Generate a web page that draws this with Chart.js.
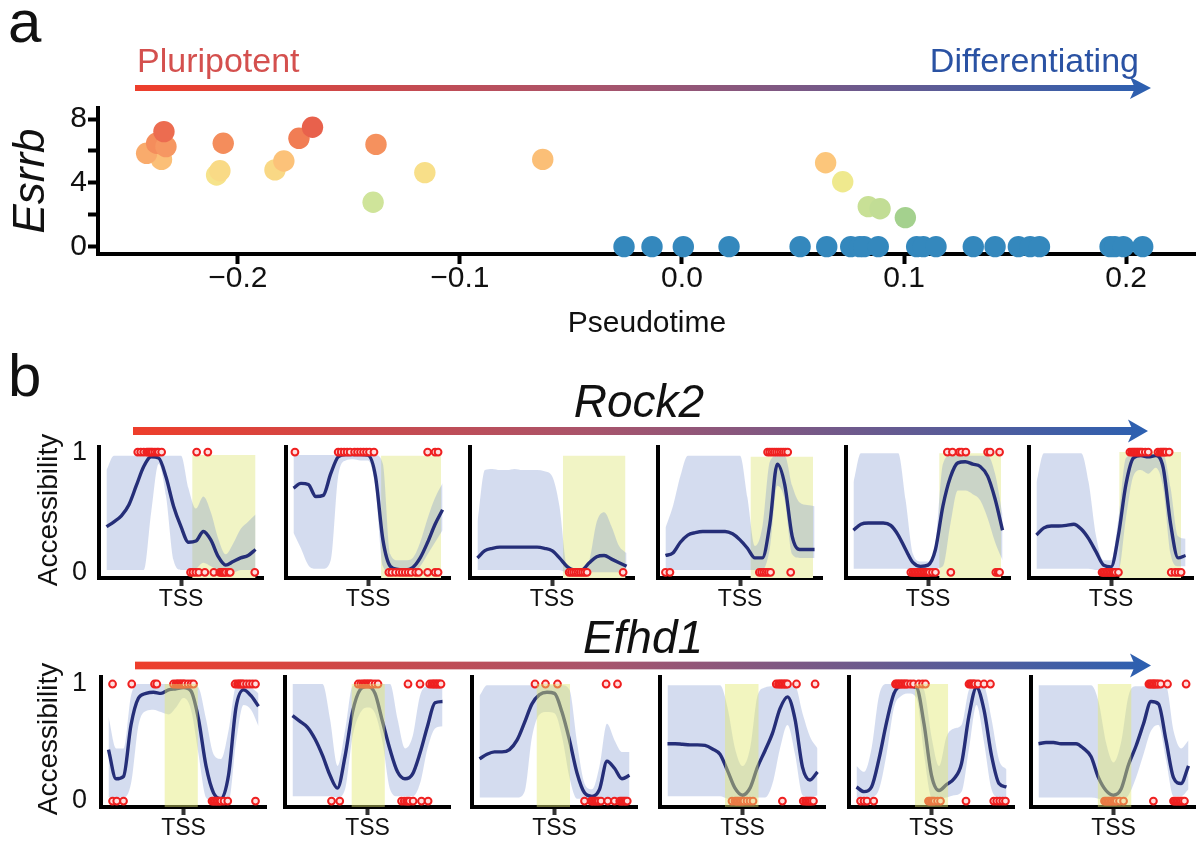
<!DOCTYPE html>
<html>
<head>
<meta charset="utf-8">
<title>Esrrb pseudotime and promoter accessibility</title>
<script src="https://cdn.jsdelivr.net/npm/chart.js@4.4.1/dist/chart.umd.min.js"></script>
<style>
  html, body { margin: 0; padding: 0; background: #fff; }
  #fig { position: relative; width: 1196px; height: 841px; overflow: hidden;
         font-family: 'Liberation Sans', Arial, sans-serif; color: #111; }
  #fig canvas { position: absolute; }
  .txt { position: absolute; line-height: 1; white-space: nowrap; z-index: 2; }
  .rot { transform: translate(-50%, -50%) rotate(-90deg); }
</style>
</head>
<body>
<div id="fig">
  <canvas id="arrows" width="1196" height="841" style="left:0;top:0"></canvas>
  <div class="txt" style="left:8px;top:-7.8px;font-size:60px">a</div>
  <div class="txt" style="left:8px;top:346px;font-size:60px">b</div>
  <div class="txt" style="left:137px;top:43.2px;font-size:34px;color:#d4504e">Pluripotent</div>
  <div class="txt" style="right:57px;top:43.2px;font-size:34px;color:#2a52a3">Differentiating</div>
  <div class="txt" style="left:339px;width:600px;text-align:center;top:378px;font-size:46px;font-style:italic">Rock2</div>
  <div class="txt" style="left:343px;width:600px;text-align:center;top:614px;font-size:46px;font-style:italic">Efhd1</div>
  <div class="txt rot" style="left:48px;top:510px;font-size:28px">Accessibility</div>
  <div class="txt rot" style="left:48px;top:739px;font-size:28px">Accessibility</div>
</div>
<script>
// ---------- panel a : Esrrb expression vs pseudotime ----------
const pseudotime = [
  -0.2344, -0.2411, -0.2366, -0.2324, -0.2333, -0.2066, -0.2096, -0.2081,
  -0.1833, -0.1793, -0.1725, -0.1664, -0.1378, -0.1391, -0.1158, -0.0627,
  0.0647, 0.0724, 0.0839, 0.0892, 0.1006,
  -0.0261, -0.0135, 0.0006, 0.0212, 0.0532, 0.0652, 0.0760, 0.0800, 0.0820, 0.0884,
  0.1057, 0.1087, 0.1144, 0.1312, 0.1410, 0.1515, 0.1568, 0.1610, 0.1928, 0.1950, 0.1988, 0.2075
];
const esrrbExpr = [
  5.47, 5.85, 6.48, 6.27, 7.21, 6.48, 4.49, 4.76,
  4.81, 5.37, 6.79, 7.48, 6.41, 2.78, 4.64, 5.47,
  5.26, 4.07, 2.51, 2.38, 1.82,
  0, 0, 0, 0, 0, 0, 0, 0, 0, 0,
  0, 0, 0, 0, 0, 0, 0, 0, 0, 0, 0, 0
];
const timeTicks = [-0.2, -0.1, 0, 0.1, 0.2];
const exprTicks = [0, 2, 4, 6, 8];

// ---------- panel b : accessibility around the TSS ----------
const tssPos = [0, 5, 10, 15, 20, 25, 30, 35, 40, 45, 50, 55, 60, 65, 70, 75, 80, 85, 90, 95, 100];

const rock2Fit = [
  [.38,.42,.47,.56,.72,.88,.96,.95,.79,.55,.38,.25,.26,.34,.27,.13,.06,.09,.12,.14,.19],
  [.70,.74,.73,.63,.64,.82,.96,.98,.98,.98,.975,.80,.27,.05,.025,.02,.04,.12,.25,.40,.52],
  [.12,.18,.20,.21,.21,.21,.21,.21,.21,.20,.18,.12,.05,.02,.02,.08,.13,.14,.11,.08,.05],
  [.14,.16,.25,.31,.33,.34,.34,.34,.34,.32,.27,.20,.12,.12,.40,.90,.73,.30,.19,.19,.19],
  [.35,.40,.41,.41,.41,.39,.31,.19,.08,.05,.06,.19,.55,.79,.91,.92,.90,.88,.80,.61,.35],
  [.31,.37,.385,.385,.39,.40,.36,.28,.17,.06,.045,.31,.73,.95,.97,.96,.97,.87,.40,.12,.14]
];
const rock2Upper = [
  [.85,.97,.97,.97,.97,.97,.97,.97,.97,.97,.97,.70,.53,.63,.50,.28,.15,.24,.36,.42,.48],
  [.975,.975,.975,.975,.975,.975,.975,.975,.975,.975,.975,.975,.90,.15,.10,.10,.12,.25,.45,.62,.74],
  [.42,.85,.86,.85,.85,.86,.85,.85,.85,.84,.80,.55,.06,.03,.03,.10,.42,.50,.38,.22,.16],
  [.37,.55,.80,.97,.97,.97,.97,.97,.97,.97,.97,.62,.22,.38,.92,.97,.97,.72,.58,.56,.55],
  [.75,.99,.99,.99,.99,.99,.99,.60,.15,.09,.09,.25,.90,.97,.97,.97,.97,.97,.97,.82,.48],
  [.75,.99,.99,.99,.99,.99,.99,.75,.30,.10,.10,.45,.95,.98,.98,.98,.98,.98,.70,.30,.28]
];
const rock2Lower = [
  [.02,.02,.02,.02,.02,.02,.50,.90,.63,.10,.02,.02,.03,.08,.05,.02,0,0,.02,.02,.02],
  [.33,.20,.06,.03,.03,.10,.80,.93,.94,.93,.93,.70,.05,0,0,0,0,.05,.15,.25,.35],
  [.02,.02,.02,.02,.02,.02,.02,.02,.02,.02,.02,.02,0,0,0,0,0,0,0,0,0],
  [.02,.02,.02,.02,.02,.02,.02,.02,.02,.02,.02,.02,.02,.02,.20,.72,.60,.15,.12,.12,.12],
  [.03,.03,.03,.03,.03,.03,.03,.03,.02,.02,.02,.03,.05,.40,.68,.68,.65,.60,.45,.25,.10],
  [.03,.03,.03,.03,.03,.03,.03,.03,.02,.02,.02,.02,.45,.80,.85,.82,.87,.70,.15,.05,.05]
];
// [start, end, top] of the highlighted window
const rock2Window = [[57.5,100,.975],[58.8,99,.97],[57.3,99.3,.97],[57,99,.96],[57.5,99,.99],[55.5,97,1]];
const rock2CellsOpen = [
  [21,23,25,27,28,29,30,31,32.5,34,35,37,60.5,68],
  [1,30,32,34,36,38,41,43,45,47,49,51,54,90,95,97],
  [],
  [68.5,70,71.5,73,74.5,76,77.5,79,80.5,82],
  [63,66.4,71,72.5,75.4,90,91.7,98],
  [62.7,64,65,66,67,68,69,70,71,73,75,81.5,83,84,85,86,87,89]
];
const rock2CellsClosed = [
  [56.4,58,60,62,66,72,76,77,78,79,80,82,83,99.5],
  [64,66,68.5,71,73,75,77,79,82,84,90,95,97],
  [61.5,63,64.5,66,67.5,69,70.5,72,73.5,97.7],
  [0,3,63,64.5,66,67.5,69,70.5,84],
  [38.5,40,41,42,43,44,45,46,47,48,49,50,51,53,55,65.3,95.5,97,98],
  [44,45,46,47,48,49,50,51,52,53,55,90.4,93,95,97]
];

const efhd1Fit = [
  [.44,.19,.21,.65,.88,.92,.93,.92,.95,.96,.97,.94,.70,.30,.07,.02,.22,.80,.95,.90,.81],
  [.73,.68,.63,.53,.39,.22,.11,.38,.76,.95,.98,.92,.68,.44,.25,.19,.23,.41,.64,.84,.85],
  [.36,.40,.42,.42,.44,.52,.67,.83,.91,.93,.92,.76,.52,.24,.07,.04,.10,.34,.28,.19,.22],
  [.49,.49,.485,.48,.48,.475,.445,.40,.26,.11,.05,.11,.29,.43,.58,.79,.89,.70,.29,.18,.25],
  [.12,.08,.12,.36,.67,.92,.98,.98,.97,.66,.22,.09,.14,.19,.32,.73,.97,.78,.39,.15,.12],
  [.49,.50,.50,.49,.49,.49,.45,.38,.20,.09,.05,.10,.31,.47,.66,.85,.83,.52,.20,.15,.30]
];
const efhd1Upper = [
  [.72,.45,.45,.90,1,1,1,1,1,1,1,1,.97,.70,.40,.36,.60,.98,1,.97,.92],
  [1,1,1,1,1,.70,.30,.60,.98,1,1,1,1,1,.70,.45,.55,.90,.98,.98,.97],
  [.90,.99,.99,.99,.99,.99,.99,.99,.99,.99,.99,.99,.95,.50,.15,.10,.30,.66,.52,.42,.42],
  [.99,.99,.99,.99,.99,.99,.99,.99,.80,.45,.30,.45,.90,.97,.98,.98,.98,.98,.75,.55,.45],
  [.30,.25,.45,.90,1,1,1,1,1,.95,.55,.30,.55,.62,.65,.95,1,.98,.70,.35,.27],
  [.99,.99,.99,.99,.99,.99,.99,.99,.85,.50,.33,.50,.90,.98,.98,.98,.98,.98,.60,.45,.52]
];
const efhd1Lower = [
  [.03,.03,.03,.15,.65,.77,.78,.76,.74,.80,.88,.78,.40,.03,0,0,0,.50,.82,.78,.64],
  [.04,.04,.04,.04,.04,.04,.03,.10,.55,.75,.80,.75,.50,.10,.04,.04,.04,.15,.45,.62,.64],
  [.03,.03,.03,.03,.03,.03,.08,.55,.74,.76,.75,.55,.20,.02,.02,.02,.02,.02,.02,.02,.02],
  [.04,.04,.04,.04,.04,.04,.04,.04,.02,0,0,0,.03,.03,.15,.45,.65,.40,.05,.03,.05],
  [.02,.02,.03,.10,.40,.80,.90,.92,.88,.40,.03,.02,.03,.05,.08,.45,.82,.50,.10,.03,.03],
  [.03,.03,.03,.03,.03,.03,.03,.03,.02,0,0,0,.05,.20,.40,.60,.65,.35,.04,.04,.10]
];
const efhd1Window = [[37.3,59.6,1],[39.3,61.6,1],[38,60.4,1],[38.3,60.8,1],[38.9,61.1,1],[39.4,62,1]];
const efhd1CellsOpen = [
  [2.7,15.5,30.7,32.2,43.3,45,46,47,48,49,50,51,53,55,56.7,84.4,86,87,88,89,90,92,94,96,98],
  [43.8,45.5,47,48,49,50,51,52,53,55,57,77,85,91.5,93,94,95,96,97,98,99],
  [37,44,52,84.4,92],
  [72.5,74,75,76,77,78,79,80,86,98.4],
  [26,27,28,29,30,31,32,33,34,36,38,41.5,44,46,75,76,77,78,79,81,85,89.3],
  [73.6,74.5,75.5,76.5,77,78,79,80,81.5,86,98.4]
];
const efhd1CellsClosed = [
  [2.7,5.5,10,69,70,71,72,73,74,75,77,79.5,98],
  [26,31.5,72.7,74.5,76,77,78,80.4,86,90.4],
  [70,74.5,75.5,76.5,77.5,78.5,79.5,81,85.5,90,93.5,94.5,95.5,96.5,97.5,98.5],
  [43,45,46,47,48,49,50,51,53,55,57,76.6,90.5,92,93,94,95,96,97.3],
  [2.7,5,7,11.5,48,49,50,51,52,54,56,73,91.5,93.5,95.5,97.5,99.3],
  [44,45,46,47,48,49,50,51,52,54,56.7,76.6,90,91,92,93,94,95,96,97.3]
];

// ---------- drawing ----------
Chart.defaults.font.family = "'Liberation Sans', Arial, sans-serif";
Chart.defaults.color = '#111';

const fig = document.getElementById('fig');

function addCanvas(left, top, w, h) {
  const c = document.createElement('canvas');
  c.width = w; c.height = h;
  c.style.left = left + 'px'; c.style.top = top + 'px';
  c.style.width = w + 'px'; c.style.height = h + 'px';
  fig.appendChild(c);
  return c;
}

// gradient arrows
const actx = document.getElementById('arrows').getContext('2d');
function gradArrow(x0, x1, y, thick, back, half) {
  const g = actx.createLinearGradient(x0, 0, x1, 0);
  g.addColorStop(0, '#ee3e2b');
  g.addColorStop(0.45, '#a9546b');
  g.addColorStop(1, '#2c60b1');
  actx.fillStyle = g;
  actx.fillRect(x0, y - thick / 2, back + 6 - x0, thick);
  actx.beginPath();
  actx.moveTo(back, y - half);
  actx.lineTo(x1, y);
  actx.lineTo(back, y + half);
  actx.lineTo(back + 5, y);
  actx.closePath();
  actx.fill();
}
gradArrow(135, 1151, 88, 6, 1130, 11);
gradArrow(133, 1148, 431, 8, 1128, 11.5);
gradArrow(135, 1151, 665.5, 7.7, 1130, 12);

// colour of a cell by expression level
const exprStops = [
  [1.8, [163,209,142]], [2.5, [200,224,150]], [2.8, [208,228,154]], [4.1, [240,233,142]],
  [4.6, [248,225,138]], [5.3, [252,196,122]], [5.5, [251,190,118]], [5.9, [249,168,106]],
  [6.3, [246,150,97]], [6.5, [244,140,91]], [6.85, [240,122,83]], [7.2, [236,108,80]], [7.5, [232,96,76]]
];
function esrrbColor(v) {
  if (!v) return '#3488bd';
  if (v <= exprStops[0][0]) return 'rgb(' + exprStops[0][1].join(',') + ')';
  for (let i = 1; i < exprStops.length; i++) {
    if (v <= exprStops[i][0]) {
      const [a, ca] = exprStops[i - 1], [b, cb] = exprStops[i];
      const t = (v - a) / (b - a);
      return 'rgb(' + ca.map((c, k) => Math.round(c + (cb[k] - c) * t)).join(',') + ')';
    }
  }
  return 'rgb(' + exprStops[exprStops.length - 1][1].join(',') + ')';
}

function fmtTime(v) {
  if (Math.abs(v) < 1e-9) return '0.0';
  return (v < 0 ? '\u2212' : '') + Math.abs(v).toFixed(1);
}

new Chart(addCanvas(0, 78, 1196, 272), {
  type: 'scatter',
  data: {
    datasets: [{
      data: pseudotime.map((x, i) => ({ x: x, y: esrrbExpr[i] })),
      backgroundColor: ctx => esrrbColor(ctx.raw ? ctx.raw.y : 0),
      borderWidth: 0,
      pointRadius: 10.7,
      pointHoverRadius: 10.7,
      clip: false
    }]
  },
  options: {
    responsive: false, animation: false, events: [],
    layout: { autoPadding: false, padding: { top: 30, right: 0, bottom: 0, left: 0 } },
    plugins: { legend: { display: false }, tooltip: { enabled: false } },
    scales: {
      x: {
        type: 'linear', min: -0.263, max: 0.2315, z: 1,
        afterBuildTicks: s => { s.ticks = timeTicks.map(v => ({ value: v })); },
        afterFit: s => { s.height = 96; },
        border: { color: '#000', width: 4 },
        grid: { display: true, drawOnChartArea: false, drawTicks: true, tickLength: 10, tickWidth: 4, tickColor: '#000' },
        ticks: { font: { size: 30 }, color: '#111', padding: -3, maxRotation: 0, autoSkip: false, callback: v => fmtTime(v) },
        title: { display: true, text: 'Pseudotime', font: { size: 30 }, color: '#111', padding: { top: 0, bottom: 8 } }
      },
      y: {
        min: -0.46, max: 8.69, z: 1,
        afterBuildTicks: s => { s.ticks = exprTicks.map(v => ({ value: v })); },
        afterFit: s => { s.width = 98; },
        border: { color: '#000', width: 4 },
        grid: { display: true, drawOnChartArea: false, drawTicks: true, tickLength: 10, tickWidth: 4, tickColor: '#000' },
        ticks: { font: { size: 30 }, color: '#111', padding: 1, autoSkip: false, callback: v => (v % 4 === 0 ? String(v) : '') },
        title: { display: true, text: 'Esrrb', font: { size: 44, style: 'italic' }, color: '#111', padding: { top: 5, bottom: 0 } }
      }
    }
  }
});

const rowGeom = [
  { axisX: [99, 286, 470, 658, 846, 1029], plotW: 164, top: 447, bottom: 578, yMin: -0.047, yMax: 1.042, labelPad: 12 },
  { axisX: [101, 285, 472, 660, 849, 1031], plotW: 165, top: 677, bottom: 807, yMin: -0.051, yMax: 1.06, labelPad: 14 }
];

function accessPanel(row, col, fit, lower, upper, win, open, closed) {
  const g = rowGeom[row];
  const yW = col === 0 ? g.axisX[col] : 8;
  const plotH = g.bottom - g.top;
  const W = yW + g.plotW + 8;
  const H = 34 + plotH + 40;
  const canvas = addCanvas(g.axisX[col] - yW, g.top - 34, W, H);

  const windowSet = {
    data: [{ x: win[0], y: win[2] }, { x: win[1], y: win[2] }],
    fill: 'start', borderColor: 'transparent', borderWidth: 0, pointRadius: 0,
    backgroundColor: row === 0 ? 'rgb(241,244,197)' : 'rgba(226,232,112,0.45)'
  };
  const cells = {
    data: open.map(x => ({ x: x, y: 1 })).concat(closed.map(x => ({ x: x, y: 0 }))),
    showLine: false, pointRadius: 3.4, pointBorderWidth: 2,
    pointBackgroundColor: '#ffdede', pointBorderColor: '#ef2020', clip: false
  };
  const curve = {
    data: tssPos.map((x, i) => ({ x: x, y: fit[i] })),
    borderColor: '#252e78', borderWidth: 3.4, pointRadius: 0,
    cubicInterpolationMode: 'monotone', fill: false
  };
  const lo = {
    data: tssPos.map((x, i) => ({ x: x, y: lower[i] })),
    borderColor: 'transparent', borderWidth: 0, pointRadius: 0,
    cubicInterpolationMode: 'monotone', fill: false
  };
  const hi = {
    data: tssPos.map((x, i) => ({ x: x, y: upper[i] })),
    borderColor: 'transparent', borderWidth: 0, pointRadius: 0,
    cubicInterpolationMode: 'monotone', fill: '-1',
    backgroundColor: 'rgba(120,145,205,0.32)'
  };
  // first dataset is drawn on top
  const datasets = row === 0 ? [cells, curve, lo, hi, windowSet] : [windowSet, cells, curve, lo, hi];

  new Chart(canvas, {
    type: 'line',
    data: { datasets: datasets },
    options: {
      responsive: false, animation: false, events: [],
      layout: { autoPadding: false, padding: { top: 34, right: 8, bottom: 0, left: 0 } },
      plugins: { legend: { display: false }, tooltip: { enabled: false } },
      scales: {
        x: {
          type: 'linear', min: -5, max: 105,
          afterBuildTicks: s => { s.ticks = [{ value: 50 }]; },
          afterFit: s => { s.height = 40; },
          border: { color: '#000', width: 4 },
          grid: { display: true, drawOnChartArea: false, drawTicks: true, tickLength: 8, tickWidth: 4, tickColor: '#333' },
          ticks: { font: { size: 23 }, color: '#111', padding: 0, maxRotation: 0, autoSkip: false, callback: () => 'TSS' }
        },
        y: {
          min: g.yMin, max: g.yMax,
          afterBuildTicks: s => { s.ticks = [{ value: 0 }, { value: 1 }]; },
          afterFit: s => { s.width = yW; },
          border: { color: '#000', width: 4 },
          grid: { display: false, drawTicks: false },
          ticks: { display: col === 0, font: { size: 27 }, color: '#111', padding: g.labelPad, callback: v => String(v) }
        }
      }
    }
  });
}

for (let i = 0; i < 6; i++) {
  accessPanel(0, i, rock2Fit[i], rock2Lower[i], rock2Upper[i], rock2Window[i], rock2CellsOpen[i], rock2CellsClosed[i]);
  accessPanel(1, i, efhd1Fit[i], efhd1Lower[i], efhd1Upper[i], efhd1Window[i], efhd1CellsOpen[i], efhd1CellsClosed[i]);
}
</script>
</body>
</html>
